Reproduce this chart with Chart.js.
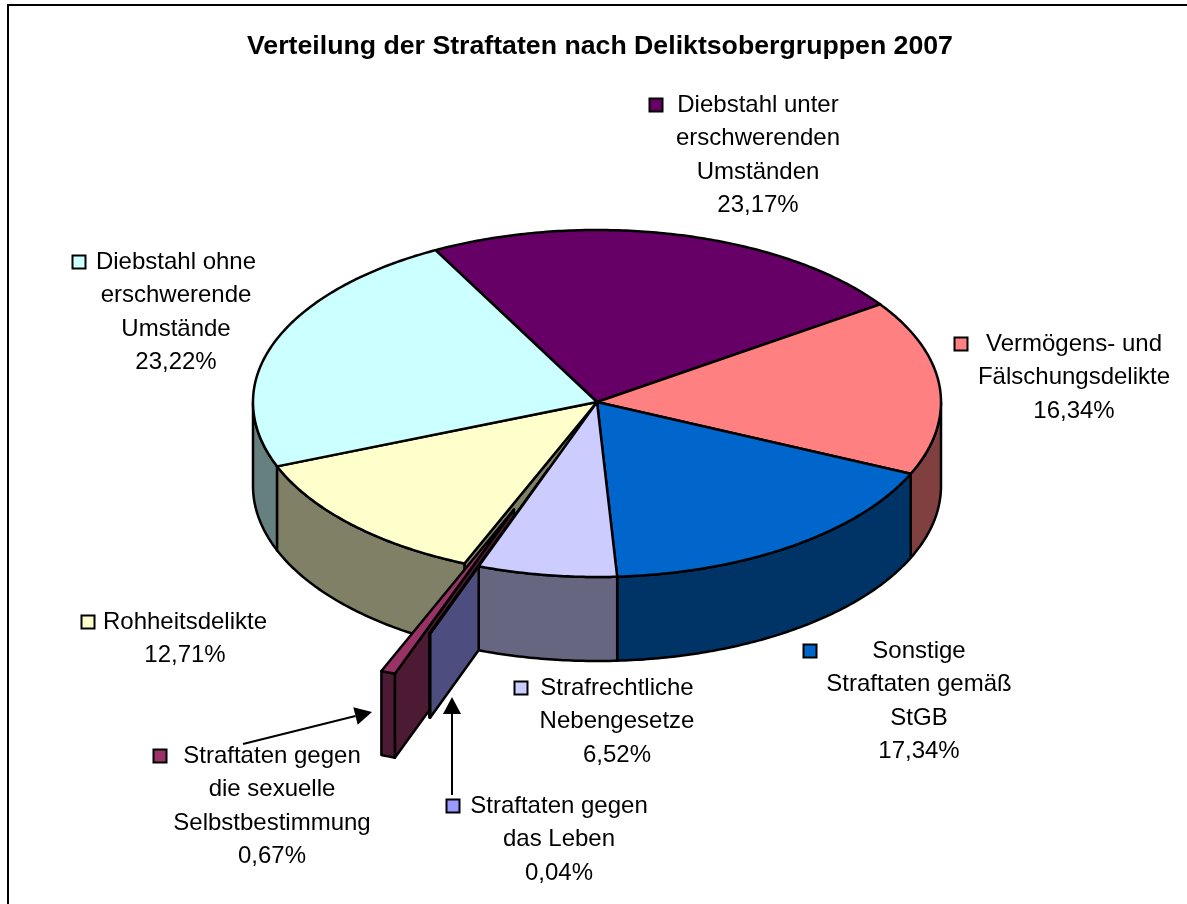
<!DOCTYPE html>
<html lang="de">
<head>
<meta charset="utf-8">
<title>Verteilung der Straftaten</title>
<script src="https://cdn.jsdelivr.net/npm/chart.js@4"></script>
<style>html,body{margin:0;padding:0;background:#fff}canvas{display:block}</style>
</head>
<body>
<canvas id="c" width="1187" height="904"></canvas>
<script>
const chartTitle = 'Verteilung der Straftaten nach Deliktsobergruppen 2007';
const categories = ['Diebstahl unter erschwerenden Umständen','Vermögens- und Fälschungsdelikte','Sonstige Straftaten gemäß StGB','Strafrechtliche Nebengesetze','Straftaten gegen das Leben','Straftaten gegen die sexuelle Selbstbestimmung','Rohheitsdelikte','Diebstahl ohne erschwerende Umstände'];
const values = [23.17,16.34,17.34,6.52,0.04,0.67,12.71,23.22];
const topColors = ['#660066','#FF8080','#0066CC','#CCCCFF','#9999FF','#993366','#FFFFCC','#CCFFFF'];
const wallColors = ['#330033','#804040','#003366','#666680','#4D4D80','#4D1A33','#808066','#668080'];
const explode = [0,0,0,0,0.41,0.66,0,0];
const labelLines = [
  ['Diebstahl unter','erschwerenden','Umständen'],
  ['Vermögens- und','Fälschungsdelikte'],
  ['Sonstige','Straftaten gemäß','StGB'],
  ['Strafrechtliche','Nebengesetze'],
  ['Straftaten gegen','das Leben'],
  ['Straftaten gegen','die sexuelle','Selbstbestimmung'],
  ['Rohheitsdelikte'],
  ['Diebstahl ohne','erschwerende','Umstände']
];
const labelCenterX = [758,1074,919,617,559,272,185,176];
const labelTopY = [105,344,651,688,806,756,622,262];
const keyX = [656,961,810,521,453,160,88,79];
const lineHeight = 33.5;
const leaders = [[243,744,372,712],[452,795,452,697]];

const X0 = 597, Y0 = 402, K1 = 172/344, K2 = 175/344, DEPTH = 84, W = 1187, H = 904;

function proj(a, r, ang, ox, oy, z) {
  const dx = r*Math.cos(ang), dy = r*Math.sin(ang);
  return [X0+ox+dx, Y0+oy+dy*(dy<0?K1:K2)+z];
}
function offsetOf(a, i) {
  const mid = (a.startAngle+a.endAngle)/2, e = explode[i]*a.outerRadius;
  return [e*Math.cos(mid), e*Math.sin(mid)*K2];
}
function paint(ctx, pts, fill) {
  ctx.beginPath();
  pts.forEach((p,j)=> j?ctx.lineTo(p[0],p[1]):ctx.moveTo(p[0],p[1]));
  ctx.closePath();
  if (fill) { ctx.fillStyle = fill; ctx.fill(); }
  ctx.lineWidth = 2.5; ctx.strokeStyle = '#000'; ctx.lineJoin = 'round'; ctx.stroke();
}
function rimPts(a, r, s, e, ox, oy, z) {
  const n = Math.max(2, Math.ceil((e-s)*90)), out = [];
  for (let j=0;j<=n;j++) out.push(proj(a, r, s+(e-s)*j/n, ox, oy, z));
  return out;
}
function drawWalls(ctx, arcs, i) {
  const a = arcs[i], [ox,oy] = offsetOf(a,i), r = a.outerRadius;
  if (explode[i] > 0 || (i>0 && explode[i-1] > 0)) {
    const p = proj(a,r,a.startAngle,ox,oy,0), c = proj(a,0,a.startAngle,ox,oy,0);
    paint(ctx, [c,p,[p[0],p[1]+DEPTH],[c[0],c[1]+DEPTH]], wallColors[i]);
  }
  const s = Math.max(a.startAngle,0), e = Math.min(a.endAngle,Math.PI);
  if (e > s) {
    const top = rimPts(a,r,s,e,ox,oy,0), bot = rimPts(a,r,s,e,ox,oy,DEPTH).reverse();
    paint(ctx, top.concat(bot), wallColors[i]);
  }
}
function drawTop(ctx, arcs, i) {
  const a = arcs[i], [ox,oy] = offsetOf(a,i);
  [[0,Y0+oy,K1],[Y0+oy,H,K2]].forEach(([y1,y2,k])=>{
    ctx.save();
    ctx.beginPath(); ctx.rect(0,y1,W,y2-y1); ctx.clip();
    ctx.translate(X0+ox,Y0+oy); ctx.scale(1,k); ctx.translate(-a.x,-a.y);
    a.draw(ctx);
    ctx.restore();
  });
  const c = proj(a,0,0,ox,oy,0);
  paint(ctx, [c].concat(rimPts(a,a.outerRadius,a.startAngle,a.endAngle,ox,oy,0)), null);
}

const pie3d = {
  id:'pie3d',
  beforeDraw(chart){
    const ctx = chart.ctx;
    ctx.save();
    ctx.fillStyle='#fff'; ctx.fillRect(0,0,W,H);
    ctx.strokeStyle='#000'; ctx.lineWidth=2;
    ctx.strokeRect(8,5,W,H);
    ctx.restore();
  },
  beforeDatasetDraw(chart, args){
    const ctx = chart.ctx, arcs = args.meta.data;
    ctx.save();
    [7,0,1,2,6].forEach(i=>drawWalls(ctx,arcs,i));
    [0,1,2,6,7].forEach(i=>drawTop(ctx,arcs,i));
    drawWalls(ctx,arcs,5); drawTop(ctx,arcs,5);
    drawWalls(ctx,arcs,4); drawTop(ctx,arcs,4);
    drawWalls(ctx,arcs,3); drawTop(ctx,arcs,3);
    ctx.restore();
    return false;
  },
  afterDraw(chart){
    const ctx = chart.ctx;
    ctx.save();
    ctx.font = '24px "Liberation Sans"';
    ctx.textAlign='center'; ctx.textBaseline='middle'; ctx.fillStyle='#000';
    categories.forEach((cat,i)=>{
      const lines = labelLines[i].concat([values[i].toFixed(2).replace('.',',')+'%']);
      lines.forEach((t,j)=> ctx.fillText(t,labelCenterX[i],labelTopY[i]+j*lineHeight));
      ctx.fillStyle=topColors[i]; ctx.strokeStyle='#000'; ctx.lineWidth=2;
      ctx.fillRect(keyX[i]-6.5,labelTopY[i]-6.5,13,13);
      ctx.strokeRect(keyX[i]-6.5,labelTopY[i]-6.5,13,13);
      ctx.fillStyle='#000';
    });
    leaders.forEach(([x1,y1,x2,y2])=>{
      const an=Math.atan2(y2-y1,x2-x1), L=17, w=9;
      const bx=x2-L*Math.cos(an), by=y2-L*Math.sin(an);
      ctx.beginPath(); ctx.moveTo(x1,y1); ctx.lineTo(bx,by); ctx.lineWidth=2; ctx.strokeStyle='#000'; ctx.stroke();
      ctx.beginPath(); ctx.moveTo(x2,y2);
      ctx.lineTo(bx-w*Math.sin(an),by+w*Math.cos(an));
      ctx.lineTo(bx+w*Math.sin(an),by-w*Math.cos(an));
      ctx.closePath(); ctx.fill();
    });
    ctx.restore();
  }
};

new Chart(document.getElementById('c'), {
  type:'pie',
  data:{labels:categories,datasets:[{data:values,backgroundColor:topColors,borderWidth:0}]},
  options:{
    responsive:false,animation:false,events:[],
    rotation:-28,radius:344,
    layout:{padding:{left:13}},
    plugins:{
      legend:{display:false},tooltip:{enabled:false},
      title:{display:true,text:chartTitle,color:'#000',font:{family:'"Liberation Sans"',size:26.7,weight:'bold'},padding:{top:31,bottom:10}}
    }
  },
  plugins:[pie3d]
});
</script>
</body>
</html>
